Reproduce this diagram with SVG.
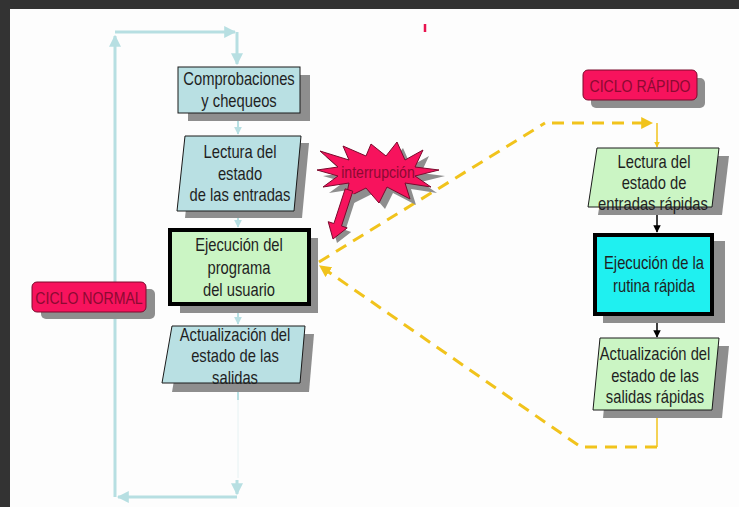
<svg xmlns="http://www.w3.org/2000/svg" width="739" height="507" viewBox="0 0 739 507">
  <style>
    .t { font-family: "Liberation Sans", Arial, sans-serif; font-size: 18px; fill: #1f1f1f; text-anchor: middle; }
    .lbl { font-family: "Liberation Sans", Arial, sans-serif; font-size: 17px; fill: #8c0a32; text-anchor: middle; }
    .shadow { fill: #8e8e8e; }
    .blue { fill: #b9e0e3; stroke: #1a1a1a; stroke-width: 1; }
    .green { fill: #cbf5c4; stroke: #1a1a1a; stroke-width: 1; }
    .greenBold { fill: #cbf5c4; stroke: #000; stroke-width: 4; }
    .cyanBold { fill: #1ff0f0; stroke: #000; stroke-width: 4; }
    .pink { fill: #f7135d; stroke: #7a0a2d; stroke-width: 1; }
    .loop { fill: none; stroke: #b7dfe2; stroke-width: 3; }
    .flow { fill: none; stroke: #b7dfe2; stroke-width: 2; }
    .fast { fill: none; stroke: #000; stroke-width: 1.5; }
    .dash { fill: none; stroke: #f1c31c; stroke-width: 3; stroke-dasharray: 12 8; }
    .ythin { fill: none; stroke: #f1c31c; stroke-width: 1.5; }
  </style>
  <defs>
    <marker id="ab" viewBox="0 0 10 10" refX="9" refY="5" markerWidth="4" markerHeight="4" orient="auto">
      <path d="M0,0 L10,5 L0,10 z" fill="#b7dfe2"/>
    </marker>
    <marker id="ak" viewBox="0 0 10 10" refX="9" refY="5" markerWidth="5" markerHeight="5" orient="auto">
      <path d="M0,0 L10,5 L0,10 z" fill="#000"/>
    </marker>
    <marker id="ay" viewBox="0 0 10 10" refX="9" refY="5" markerWidth="4" markerHeight="4" orient="auto">
      <path d="M0,0 L10,5 L0,10 z" fill="#f1c31c"/>
    </marker>
  </defs>

  <!-- page frame -->
  <rect x="0" y="0" width="739" height="507" fill="#fdfdfd"/>
  <rect x="0" y="0" width="739" height="9" fill="#333333"/>
  <rect x="0" y="0" width="10" height="507" fill="#333333"/>
  <line x1="425" y1="24" x2="425" y2="32" stroke="#e8134f" stroke-width="2.5"/>

  <!-- connectors -->
  <g id="connectors">
    <!-- normal cycle loop -->
    <path class="loop" d="M237,480 L237,494" marker-end="url(#ab)"/>
    <path class="loop" d="M237,497 L118,497" marker-end="url(#ab)"/>
    <path class="loop" d="M115,497 L115,36" marker-end="url(#ab)"/>
    <path class="loop" d="M115,32 L235,32" marker-end="url(#ab)"/>
    <path class="loop" d="M237,32 L237,64" marker-end="url(#ab)"/>
    <path class="flow" d="M238,113 L238,134" marker-end="url(#ab)"/>
    <path class="flow" d="M238,211 L238,227" marker-end="url(#ab)"/>
    <path class="flow" d="M238,306 L238,324" marker-end="url(#ab)"/>
    <path class="flow" d="M238,384 L238,400"/>
    <path d="M238,400 L238,478" stroke="#e6f2f3" stroke-width="1" fill="none"/>

    <!-- fast cycle -->
    <path class="fast" d="M657,210 L657,232" marker-end="url(#ak)"/>
    <path class="fast" d="M657,316 L657,337" marker-end="url(#ak)"/>

    <!-- interrupt jump to the fast routine and back -->
    <path class="dash" d="M319,262 L545,123"/>
    <path class="dash" d="M552,123 L652,123" marker-end="url(#ay)"/>
    <path class="ythin" d="M657,123 L657,147" marker-end="url(#ay)"/>
    <path class="ythin" d="M657,410 L657,447"/>
    <path class="dash" d="M657,447 L584,447"/>
    <path class="dash" d="M578,445 L320,266" marker-end="url(#ay)"/>
  </g>

  <!-- normal cycle nodes -->
  <g id="comprobaciones">
    <rect class="shadow" x="188" y="75" width="122" height="46"/>
    <rect class="blue" x="178" y="67" width="122" height="46"/>
    <text class="t" transform="translate(239,85) scale(0.82,1)">Comprobaciones</text>
    <text class="t" transform="translate(239,107) scale(0.82,1)">y chequeos</text>
  </g>

  <g id="lectura">
    <polygon class="shadow" points="193,143 309,143 302,218 185,218"/>
    <polygon class="blue" points="185,136 301,136 294,211 177,211"/>
    <text class="t" transform="translate(240,158) scale(0.82,1)">Lectura del</text>
    <text class="t" transform="translate(240,180) scale(0.82,1)">estado</text>
    <text class="t" transform="translate(240,201) scale(0.82,1)">de las entradas</text>
  </g>

  <g id="ejecucion">
    <rect class="shadow" x="180" y="238" width="138" height="75"/>
    <rect class="greenBold" x="170" y="230" width="139" height="74"/>
    <text class="t" transform="translate(239,251) scale(0.82,1)">Ejecución del</text>
    <text class="t" transform="translate(239,274) scale(0.82,1)">programa</text>
    <text class="t" transform="translate(239,296) scale(0.82,1)">del usuario</text>
  </g>

  <g id="actualizacion">
    <polygon class="shadow" points="182,334 314,334 309,392 172,392"/>
    <polygon class="blue" points="172,326 305,326 300,383 162,383"/>
    <text class="t" transform="translate(235,341) scale(0.82,1)">Actualización del</text>
    <text class="t" transform="translate(235,362) scale(0.82,1)">estado de las</text>
    <text class="t" transform="translate(235,384) scale(0.82,1)">salidas</text>
  </g>

  <g id="ciclo-normal">
    <rect class="shadow" x="41" y="289" width="114" height="30" rx="5"/>
    <rect class="pink" x="32" y="282" width="114" height="30" rx="5"/>
    <text class="lbl" transform="translate(89,304) scale(0.83,1)">CICLO NORMAL</text>
  </g>

  <!-- interrupt burst -->
  <g id="interrupcion">
    <polygon class="shadow" transform="translate(6,6)" points="439,170 415,176 431,187 405,183 410,199 387,187 379,203 366,188 346,198 349,183 323,187 338,176 317,170 338,167 320,151 349,160 343,146 366,156 371,144 386,156 397,142 405,160 423,150 415,167"/>
    <polygon class="pink" points="439,170 415,176 431,187 405,183 410,199 387,187 379,203 366,188 346,198 349,183 323,187 338,176 317,170 338,167 320,151 349,160 343,146 366,156 371,144 386,156 397,142 405,160 423,150 415,167"/>
    <text class="lbl" transform="translate(378,178) scale(0.88,1)" style="font-size:16px">interrupción</text>
    <polygon class="shadow" transform="translate(4,4)" points="352.8,191.2 341.5,226 347.2,227.9 333,239 328.2,221.7 333.9,223.5 345.2,188.8"/>
    <polygon class="pink" points="352.8,191.2 341.5,226 347.2,227.9 333,239 328.2,221.7 333.9,223.5 345.2,188.8"/>
  </g>

  <!-- fast cycle nodes -->
  <g id="ciclo-rapido">
    <rect class="shadow" x="591" y="78" width="114" height="30" rx="5"/>
    <rect class="pink" x="583" y="70" width="114" height="30" rx="5"/>
    <text class="lbl" transform="translate(640,92) scale(0.83,1)">CICLO RÁPIDO</text>
  </g>

  <g id="lectura-rapida">
    <polygon class="shadow" points="607,156 729,156 722,215 598,215"/>
    <polygon class="green" points="597,148 719,148 712,207 588,207"/>
    <text class="t" transform="translate(654,168) scale(0.82,1)">Lectura del</text>
    <text class="t" transform="translate(654,189) scale(0.82,1)">estado de</text>
    <text class="t" transform="translate(653,210) scale(0.82,1)">entradas rápidas</text>
  </g>

  <g id="rutina-rapida">
    <rect class="shadow" x="603" y="241" width="122" height="82"/>
    <rect class="cyanBold" x="595" y="235" width="117" height="79"/>
    <text class="t" transform="translate(654,269) scale(0.82,1)">Ejecución de la</text>
    <text class="t" transform="translate(654,292) scale(0.82,1)">rutina rápida</text>
  </g>

  <g id="actualizacion-rapida">
    <polygon class="shadow" points="610,346 729,346 722,418 603,418"/>
    <polygon class="green" points="600,338 719,338 712,410 593,410"/>
    <text class="t" transform="translate(655,360) scale(0.82,1)">Actualización del</text>
    <text class="t" transform="translate(655,382) scale(0.82,1)">estado de las</text>
    <text class="t" transform="translate(655,403) scale(0.82,1)">salidas rápidas</text>
  </g>
</svg>
